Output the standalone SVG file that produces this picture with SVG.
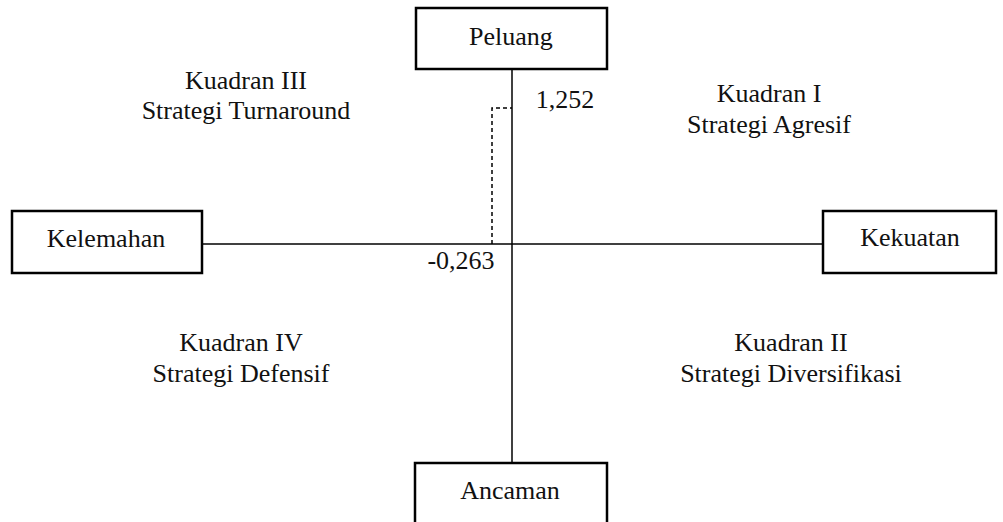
<svg xmlns="http://www.w3.org/2000/svg" width="1003" height="522" viewBox="0 0 1003 522">
<style>
.box{fill:#fff;stroke:#000;stroke-width:2.5}
.ln{stroke:#000;stroke-width:1.5;fill:none}
.dash{stroke:#000;stroke-width:1.5;fill:none;stroke-dasharray:4 3}
text{font-family:"Liberation Serif","Times New Roman",serif;font-size:26px;fill:#111;text-anchor:middle}
</style>
<rect width="1003" height="522" fill="#fff"/>
<g id="connectors">
<line class="ln" x1="512" y1="69" x2="512" y2="463"/>
<line class="ln" x1="202" y1="244" x2="823" y2="244"/>
<polyline class="dash" points="492,244 492,108 512,108"/>
</g>
<g id="peluang"><rect class="box" x="416" y="8" width="191" height="61"/><text x="511" y="45">Peluang</text></g>
<g id="kelemahan"><rect class="box" x="12" y="211" width="190" height="62"/><text x="106" y="247">Kelemahan</text></g>
<g id="kekuatan"><rect class="box" x="823" y="211" width="173" height="62"/><text x="910" y="246">Kekuatan</text></g>
<g id="ancaman"><rect class="box" x="415" y="463" width="192" height="70"/><text x="510" y="499">Ancaman</text></g>
<g id="labels">
<text x="565" y="108">1,252</text>
<text x="461" y="269">-0,263</text>
<text x="246" y="89">Kuadran III</text>
<text x="246" y="119">Strategi Turnaround</text>
<text x="769" y="102">Kuadran I</text>
<text x="769" y="133">Strategi Agresif</text>
<text x="241" y="351">Kuadran IV</text>
<text x="241" y="382">Strategi Defensif</text>
<text x="791" y="351">Kuadran II</text>
<text x="791" y="382">Strategi Diversifikasi</text>
</g>
</svg>
